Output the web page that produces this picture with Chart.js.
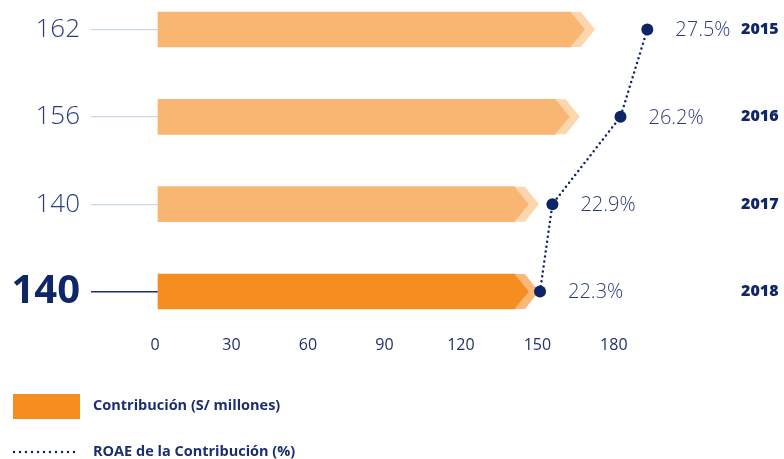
<!DOCTYPE html>
<html><head><meta charset="utf-8">
<script src="https://cdn.jsdelivr.net/npm/chart.js@4/dist/chart.umd.min.js"></script>
<style>
body{margin:0;background:#fff;}
#wrap{position:relative;width:784px;height:459px;overflow:hidden;}
canvas{position:absolute;left:0;top:0;}
.leg{position:absolute;left:93px;font-family:'Open Sans',sans-serif;font-weight:700;font-size:14.5px;color:#1b2f6e;line-height:1;white-space:nowrap;}
</style></head><body>
<div id="wrap"><canvas id="c" width="784" height="459"></canvas>
<div style="position:absolute;left:13px;top:394px;width:67px;height:25px;background:#f58d20"></div>
<div class="leg" style="top:398px">Contribución (S/ millones)</div>
<svg style="position:absolute;left:12px;top:448px" width="70" height="8"><line x1="2" y1="4" x2="68" y2="4" stroke="#0d2467" stroke-width="2.5" stroke-linecap="round" stroke-dasharray="0 6"/></svg>
<div class="leg" style="top:444px">ROAE de la Contribución (%)</div>
</div>
<script>
const years = ['2015', '2016', '2017', '2018'];
const contribution = [162, 156, 140, 140];
const roae = [27.5, 26.2, 22.9, 22.3];
const xTicks = [0, 30, 60, 90, 120, 150, 180];
const HL = 3;

const NAVY = '#0f2766';
const NAVY_LIGHT = '#2c3d7a';

const arrowPlugin = {
  id: 'arrows',
  afterDatasetDraw(chart, args) {
    const ctx = chart.ctx;
    if (args.index === 0) {
      args.meta.data.forEach((bar, i) => {
        const E = bar.x, c = bar.y, h = bar.height, t = c - h / 2, b = c + h / 2;
        ctx.save();
        ctx.fillStyle = i === HL ? '#fab878' : '#fdd6ae';
        ctx.beginPath();
        ctx.moveTo(E, t); ctx.lineTo(E + 10, t); ctx.lineTo(E + 24, c); ctx.lineTo(E + 10, b); ctx.lineTo(E, b);
        ctx.closePath(); ctx.fill();
        ctx.fillStyle = i === HL ? '#f58d20' : '#f9b672';
        ctx.beginPath();
        ctx.moveTo(E - 0.5, t); ctx.lineTo(E + 14, c); ctx.lineTo(E - 0.5, b);
        ctx.closePath(); ctx.fill();
        ctx.restore();
      });
    }
    if (args.index === 1) {
      args.meta.data.forEach((pt, i) => {
        ctx.save();
        ctx.font = '300 20px "Open Sans"';
        ctx.fillStyle = NAVY_LIGHT;
        ctx.textBaseline = 'middle';
        ctx.textAlign = 'left';
        ctx.fillText(roae[i].toFixed(1) + '%', pt.x + 28, pt.y + 1);
        ctx.restore();
      });
    }
  }
};

new Chart(document.getElementById('c'), {
  type: 'bar',
  data: {
    labels: years,
    datasets: [
      {
        type: 'bar',
        label: 'Contribución (S/ millones)',
        data: contribution,
        xAxisID: 'x', yAxisID: 'y',
        backgroundColor: ctx => ctx.dataIndex === HL ? '#f58d20' : '#f9b672',
        borderWidth: 0,
        barThickness: 35,
        order: 1,
        clip: false
      },
      {
        type: 'line',
        label: 'ROAE de la Contribución (%)',
        data: roae,
        indexAxis: 'y',
        xAxisID: 'x2', yAxisID: 'y',
        borderColor: '#0d2467',
        borderWidth: 2.5,
        borderDash: [0, 5],
        borderCapStyle: 'round',
        pointRadius: 6,
        pointBackgroundColor: '#0d2467',
        pointBorderWidth: 0,
        tension: 0,
        fill: false,
        order: 0,
        clip: false
      }
    ]
  },
  options: {
    indexAxis: 'y',
    responsive: false,
    animation: false,
    events: [],
    layout: { padding: { top: 29.5, bottom: 105, left: 0, right: 0 } },
    plugins: { legend: { display: false }, tooltip: { enabled: false } },
    scales: {
      x: {
        type: 'linear', min: 0, max: 224, position: 'bottom',
        afterBuildTicks: s => { s.ticks = xTicks.map(v => ({ value: v })); },
        afterFit: s => { s.height = 62.5; s.paddingLeft = 0; s.paddingRight = 0; },
        grid: { display: false, drawTicks: false },
        border: { display: false },
        ticks: { padding: 44, labelOffset: -3, color: '#1f3170', font: { family: 'Open Sans', size: 16, weight: '500' } }
      },
      x2: { type: 'linear', display: false, min: 3.78, max: 31.46 },
      y: {
        type: 'category', position: 'left', offset: false,
        afterFit: s => { s.width = 158; s.paddingTop = 0; s.paddingBottom = 0; },
        grid: {
          offset: false,
          drawOnChartArea: false, drawTicks: true, tickLength: 67,
          color: c => c.index === HL ? '#1b2f6e' : '#c9d8ec',
          lineWidth: c => c.index === HL ? 1.6 : 1.2
        },
        border: { display: false },
        ticks: {
          padding: 11,
          callback: (v, i) => String(contribution[i]),
          color: c => c.index === HL ? NAVY : NAVY_LIGHT,
          font: c => c.index === HL ? { family: 'Open Sans', size: 40, weight: 'bold' } : { family: 'Open Sans', size: 26, weight: '300' }
        }
      },
      y2: {
        type: 'category', labels: years, position: 'right', offset: false,
        afterFit: s => { s.width = 55; s.paddingTop = 0; s.paddingBottom = 0; },
        grid: { display: false, drawTicks: false, offset: false },
        border: { display: false },
        ticks: { padding: 12, color: NAVY, font: { family: 'Open Sans', size: 16, weight: '800' } }
      }
    }
  },
  plugins: [arrowPlugin]
});
</script>
</body></html>
